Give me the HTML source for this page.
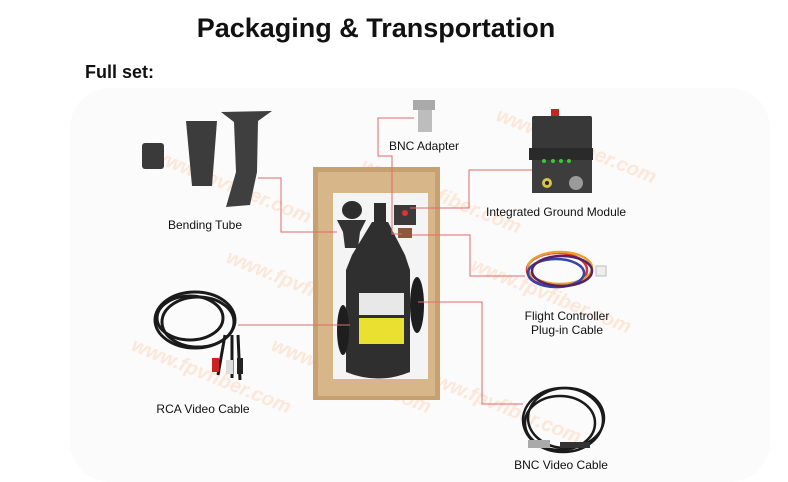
<!DOCTYPE html>
<html><head><meta charset="utf-8"><style>
html,body{margin:0;padding:0;background:#fff;}
svg{display:block;}
text{font-family:"Liberation Sans",Arial,sans-serif;}
</style></head><body>
<svg width="788" height="482" viewBox="0 0 788 482" xmlns="http://www.w3.org/2000/svg">
<rect width="788" height="482" fill="#fff"/>
<rect x="70" y="88" width="700" height="394" rx="40" fill="#fbfbfb"/>
<text x="376" y="37" font-size="27" font-weight="bold" text-anchor="middle" fill="#111">Packaging &amp; Transportation</text>
<text x="85" y="78" font-size="18" font-weight="bold" fill="#111">Full set:</text>

<g fill="#fde3d0" font-weight="bold" font-style="italic" font-size="20" opacity="0.8">
<text transform="translate(150,160) rotate(22)">www.fpvfiber.com</text>
<text transform="translate(225,262) rotate(22)">www.fpvfiber.com</text>
<text transform="translate(130,350) rotate(22)">www.fpvfiber.com</text>
<text transform="translate(495,120) rotate(22)">www.fpvfiber.com</text>
<text transform="translate(470,270) rotate(22)">www.fpvfiber.com</text>
<text transform="translate(420,380) rotate(22)">www.fpvfiber.com</text>
<text transform="translate(360,170) rotate(22)">www.fpvfiber.com</text>
<text transform="translate(270,350) rotate(22)">www.fpvfiber.com</text>
</g>

<rect x="142" y="143" width="22" height="26" rx="3" fill="#3a3a3a"/>
<path d="M186 121 L217 121 L212 186 L192 186 Z" fill="#3c3c3c"/>
<path d="M221 112 L272 111 L258 121 L257 172 L250 205 L226 207 L236 172 L234 122 Z" fill="#3f3f3f"/>
<g fill="none" stroke="#1a1a1a" stroke-width="3">
<ellipse cx="195" cy="320" rx="40" ry="28"/>
<ellipse cx="190" cy="318" rx="33" ry="22"/>
<ellipse cx="198" cy="322" rx="36" ry="25"/>
<path d="M225 335 L218 375 M232 335 L232 378 M238 335 L240 380"/>
</g>
<rect x="212" y="358" width="7" height="14" fill="#c22"/>
<rect x="226" y="360" width="7" height="14" fill="#ddd"/>
<rect x="237" y="358" width="6" height="16" fill="#222"/>

<rect x="313" y="167" width="127" height="233" fill="#c8a171"/>
<rect x="318" y="172" width="117" height="224" fill="#d7b68a"/>
<rect x="333" y="193" width="95" height="186" fill="#f4f4f4"/>
<ellipse cx="352" cy="210" rx="10" ry="9" fill="#2e2e2e"/>
<path d="M337 220 L366 220 L360 232 L358 248 L345 248 L343 232 Z" fill="#333"/>
<rect x="394" y="205" width="22" height="20" fill="#3a3a3a"/>
<circle cx="405" cy="213" r="3" fill="#d33"/>
<rect x="398" y="228" width="14" height="10" fill="#8a5a3a"/>
<rect x="374" y="203" width="12" height="20" fill="#2d2d2d"/>
<path d="M372 222 L388 222 L405 255 L410 270 L410 372 Q378 385 346 372 L346 270 L352 255 Z" fill="#2f2f2f"/>
<rect x="359" y="293" width="45" height="22" fill="#e8e8e8"/>
<rect x="359" y="318" width="45" height="26" fill="#e9e030"/>
<ellipse cx="343" cy="330" rx="6" ry="25" fill="#1e1e1e"/>
<ellipse cx="417" cy="305" rx="7" ry="28" fill="#1e1e1e"/>

<rect x="413" y="100" width="22" height="10" fill="#aaa"/>
<rect x="418" y="110" width="14" height="22" fill="#bdbdbd"/>
<rect x="551" y="109" width="8" height="8" fill="#c22"/>
<rect x="532" y="116" width="60" height="34" rx="2" fill="#383838"/>
<rect x="529" y="148" width="64" height="12" fill="#2a2a2a"/>
<rect x="532" y="160" width="60" height="33" fill="#3d3d3d"/>
<circle cx="547" cy="183" r="5" fill="#d6c24a"/>
<circle cx="547" cy="183" r="2" fill="#222"/>
<circle cx="576" cy="183" r="7" fill="#9a9a9a"/>
<g fill="#3c3"><circle cx="544" cy="161" r="2"/><circle cx="553" cy="161" r="2"/><circle cx="561" cy="161" r="2"/><circle cx="569" cy="161" r="2"/></g>
<g fill="none" stroke-width="2.5">
<ellipse cx="557" cy="270" rx="30" ry="17" stroke="#d33"/>
<ellipse cx="560" cy="268" rx="32" ry="16" stroke="#e8a030"/>
<ellipse cx="556" cy="273" rx="28" ry="14" stroke="#3344aa"/>
<ellipse cx="562" cy="271" rx="30" ry="15" stroke="#552266"/>
</g>
<rect x="596" y="266" width="10" height="10" fill="#eee" stroke="#bbb"/>
<g fill="none" stroke="#1a1a1a" stroke-width="2.5">
<ellipse cx="563" cy="420" rx="40" ry="32"/>
<ellipse cx="560" cy="423" rx="35" ry="27"/>
<ellipse cx="566" cy="418" rx="38" ry="30"/>
</g>
<rect x="528" y="440" width="22" height="8" fill="#aaa"/>
<rect x="560" y="442" width="30" height="6" fill="#333"/>

<g fill="none" stroke="#e06a6a" stroke-width="1">
<polyline points="258,178 281,178 281,232 337,232"/>
<polyline points="238,325 350,325"/>
<polyline points="414,118 378,118 378,156 392,156 392,234 402,234"/>
<polyline points="532,170 469,170 469,208 410,208"/>
<polyline points="412,235 470,235 470,276 525,276"/>
<polyline points="418,302 482,302 482,404 523,404"/>
</g>

<g font-size="12" fill="#111">
<text x="205" y="229" text-anchor="middle">Bending Tube</text>
<text x="203" y="413" text-anchor="middle">RCA Video Cable</text>
<text x="389" y="150">BNC Adapter</text>
<text x="486" y="216">Integrated Ground Module</text>
<text x="567" y="320" text-anchor="middle">Flight Controller</text>
<text x="567" y="334" text-anchor="middle">Plug-in Cable</text>
<text x="561" y="469" text-anchor="middle">BNC Video Cable</text>
</g>
</svg>
</body></html>
